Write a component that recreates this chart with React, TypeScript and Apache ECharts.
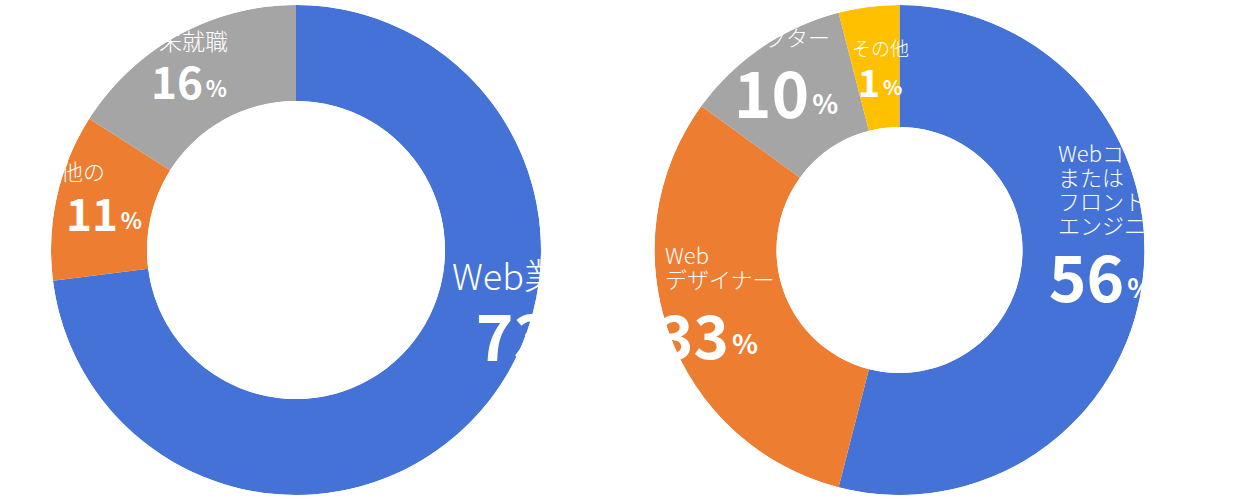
import React, { useEffect, useRef } from 'react'
import * as echarts from 'echarts'

// left donut: career after school
const leftNames = ['Web業界', 'その他の', '未就職']
const leftValues = [73, 11, 16]

// right donut: job types (slice sizes as drawn, labels as printed)
const rightNames = ['Webコーダー\nまたは\nフロントエンド\nエンジニア', 'Web\nデザイナー', 'ディレクター', 'その他']
const rightSlices = [54, 31, 11, 4]
const rightPercents = [56, 33, 10, 1]

const leftColors = ['#4472D6', '#ED7D31', '#A5A5A5']
const rightColors = ['#4472D6', '#ED7D31', '#A5A5A5', '#FFC000']

const JP = "'Noto Sans CJK JP', 'Noto Sans', sans-serif"

// label placement: [x, y, align, fontSize, percentSize]
type Pos = [number, number, string, number, number?]
const leftNamePos: Pos[] = [[452, 274, 'left', 36], [105, 170, 'right', 22], [228, 40, 'right', 23]]
const leftNumPos: Pos[] = [[528, 333, 'center', 64, 27], [104, 212, 'center', 44, 22], [189, 80, 'center', 44, 22]]
const rightNamePos: Pos[] = [[1058, 188, 'left', 22], [665, 266, 'left', 22], [830, 36, 'right', 22], [852, 47, 'left', 19]]
const rightNumPos: Pos[] = [[1101, 274, 'center', 64, 27], [708, 332, 'center', 60, 27], [786, 90, 'center', 64, 27], [880, 80, 'center', 38, 20]]

const LEFT_CENTER = [296, 250]
const RIGHT_CENTER = [899.5, 250]
const OUTER = 245

const layoutFrom = (pos: Pos[]) => (params: any) => {
  const p = pos[params.dataIndex]
  return { x: p[0], y: p[1], align: p[2], verticalAlign: 'middle' }
}

const donut = (center: number[], inner: number, values: number[], colors: string[], percents: number[], numPos: Pos[]) => ({
  type: 'pie',
  center,
  radius: [inner, OUTER],
  startAngle: 90,
  clockwise: true,
  silent: true,
  z: 2,
  data: values.map((v, i) => {
    const big = numPos[i][3]
    const small = numPos[i][4] as number
    return {
      value: v,
      itemStyle: { color: colors[i] },
      label: {
        formatter: `{v|${percents[i]}}{p|%}`,
        rich: {
          v: { fontSize: big, fontWeight: 'bold', fontFamily: JP, color: '#fff', verticalAlign: 'bottom' },
          p: {
            fontSize: small,
            fontWeight: 'bold',
            fontFamily: JP,
            color: '#fff',
            verticalAlign: 'bottom',
            padding: [0, 0, Math.round(0.17 * (big - small)), 3]
          }
        }
      }
    }
  }),
  label: { show: true, position: 'inside' },
  labelLine: { show: false },
  labelLayout: layoutFrom(numPos),
  emphasis: { disabled: true }
})

const nameLayer = (center: number[], inner: number, values: number[], names: string[], namePos: Pos[]) => ({
  type: 'pie',
  center,
  radius: [inner, OUTER],
  startAngle: 90,
  silent: true,
  z: 3,
  data: values.map((v, i) => ({
    value: v,
    name: names[i],
    itemStyle: { color: 'rgba(0,0,0,0)' },
    label: { fontSize: namePos[i][3], lineHeight: namePos[i][3] + 2 }
  })),
  label: {
    show: true,
    position: 'inside',
    formatter: '{b}',
    color: '#fff',
    fontFamily: JP,
    fontWeight: 300
  },
  labelLine: { show: false },
  labelLayout: layoutFrom(namePos),
  emphasis: { disabled: true }
})

// white rings that clip the labels to the donut
const mask = (center: number[], r0: number, r: number) => ({
  type: 'pie',
  center,
  radius: [r0, r],
  silent: true,
  z: 10,
  data: [{ value: 1, itemStyle: { color: '#fff' } }],
  label: { show: false },
  labelLine: { show: false },
  emphasis: { disabled: true }
})

const App: React.FC = () => {
  const chartRef = useRef<HTMLDivElement>(null)

  useEffect(() => {
    if (!chartRef.current) return
    const chart = echarts.init(chartRef.current, undefined, { renderer: 'svg' })

    const option: any = {
      animation: false,
      backgroundColor: '#fff',
      series: [
        donut(LEFT_CENTER, 149, leftValues, leftColors, leftValues, leftNumPos),
        nameLayer(LEFT_CENTER, 149, leftValues, leftNames, leftNamePos),
        donut(RIGHT_CENTER, 123, rightSlices, rightColors, rightPercents, rightNumPos),
        nameLayer(RIGHT_CENTER, 123, rightSlices, rightNames, rightNamePos),
        mask(LEFT_CENTER, OUTER, 352),
        mask(LEFT_CENTER, 0, 149),
        mask(RIGHT_CENTER, OUTER, 352),
        mask(RIGHT_CENTER, 0, 123)
      ]
    }

    chart.setOption(option)
    return () => {
      chart.dispose()
    }
  }, [])

  return (
    <div
      ref={chartRef}
      style={{ position: 'fixed', left: 0, top: 0, width: '1246px', height: '504px' }}
    />
  )
}

export default App
